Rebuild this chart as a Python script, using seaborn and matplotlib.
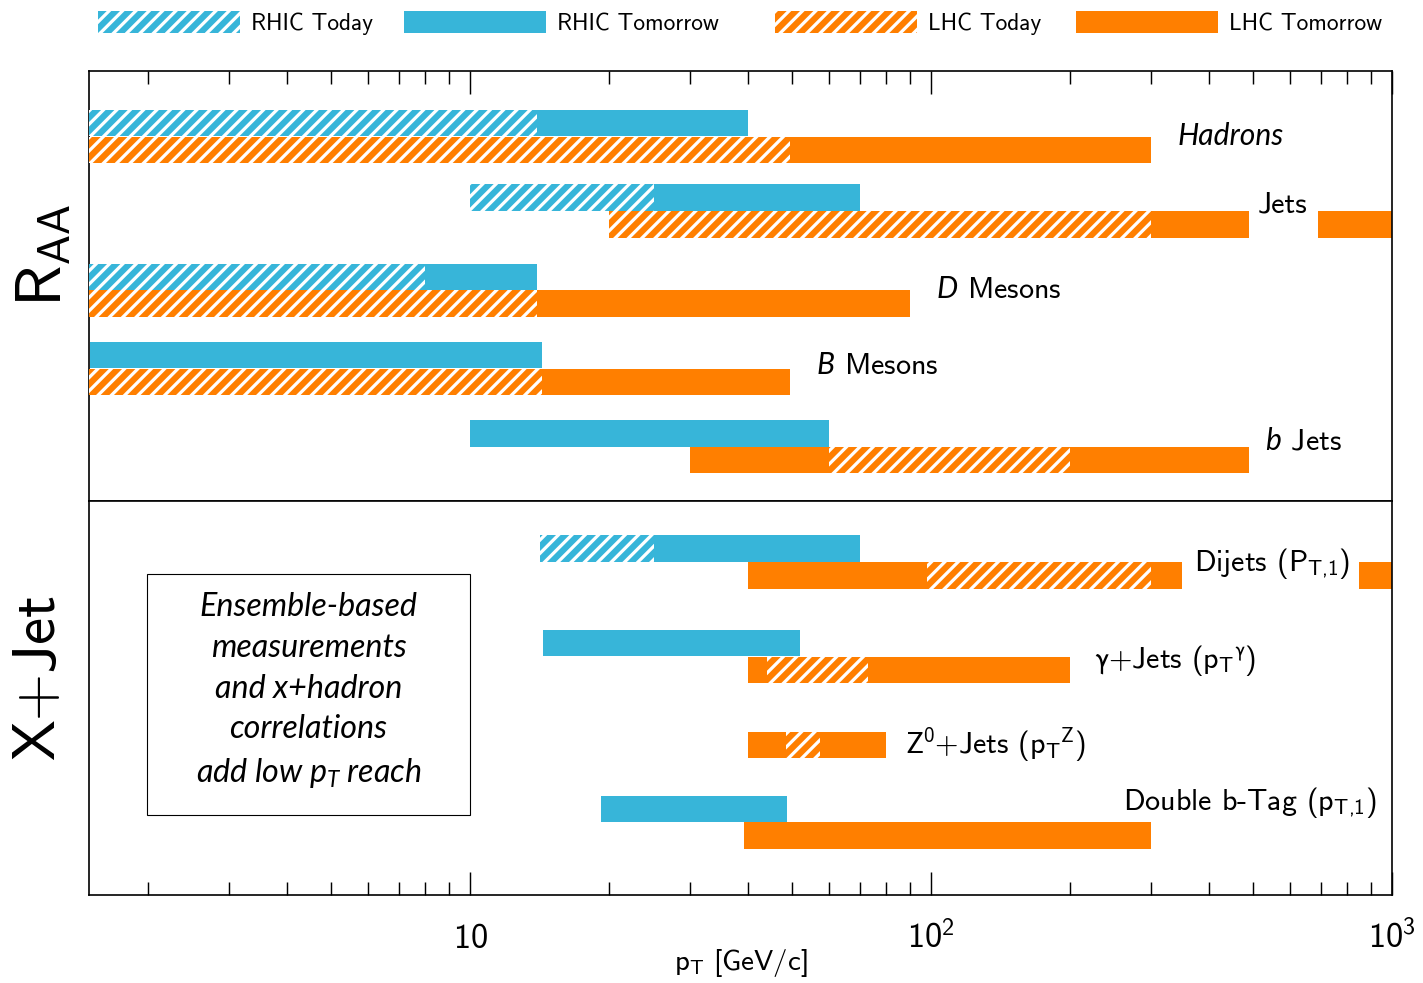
import numpy as np
import pandas as pd
import matplotlib
matplotlib.use("Agg")
import matplotlib.pyplot as plt
import seaborn as sns
from matplotlib.patches import Patch, Rectangle
from matplotlib.ticker import FixedLocator, FixedFormatter, LogLocator, NullFormatter

# ---------------- data (pT ranges in GeV/c) ----------------
raa_names = ["Hadrons", "Jets", "$D$ Mesons", "$B$ Mesons", "$b$ Jets"]
raa_rhic_today = [(1, 14), (10, 25), (1, 8), None, None]
raa_rhic_tomorrow = [[(1, 40)], [(10, 70)], [(1, 14)], [(1.5, 14.3)], [(10, 60)]]
raa_lhc_today = [(1, 49.5), (20, 300), (1, 14), (1, 14.3), (60, 200)]
raa_lhc_tomorrow = [[(1, 300)], [(20, 490), (690, 1000)], [(1, 90)], [(1, 49.5)], [(30, 490)]]

xjet_names = [r"Dijets (P$_\mathrm{T{,}1}$)",
              r"$\mathrm{\gamma}$+Jets (p$_\mathrm{T}{}^{\mathrm{\gamma}}$)",
              r"Z$^{0}$+Jets (p$_\mathrm{T}{}^{\mathrm{Z}}$)",
              r"Double b-Tag (p$_\mathrm{T{,}1}$)"]
xjet_rhic_today = [(14.2, 25), None, None, None]
xjet_rhic_tomorrow = [[(14.2, 70)], [(14.4, 52)], [], [(19.2, 48.7)]]
xjet_lhc_today = [(98, 300), (44, 73), (48.5, 57.5), None]
xjet_lhc_tomorrow = [[(40, 350), (850, 1000)], [(40, 200)], [(40, 80)], [(39.3, 300)]]

legend_labels = ["RHIC Today", "RHIC Tomorrow", "LHC Today", "LHC Tomorrow"]
tick_values = [10, 100, 1000]
tick_labels = ["$10$", "$10^{2}$", "$10^{3}$"]

# ---------------- layout ----------------
raa_rows = [0.0, 0.96, 1.98, 2.99, 4.0]
xjet_rows = [0.786, 2.004, 2.976, 4.137]
raa_label_x = [343, 512, 102.5, 56.3, 530]
raa_label_y = [0.0, 0.88, 1.98, 2.96, 3.94]
xjet_label_x = [372, 226, 88, 261]
xjet_label_y = [0.80, 2.05, 3.14, 3.88]

RHIC_C = "#37B5D9"
LHC_C = "#FF7F00"
BAR_H = 0.34
OFF = 0.172

sns.set_theme(style="ticks")
plt.rcParams.update({
    "font.family": ["cmss10", "DejaVu Sans"],
    "mathtext.fontset": "custom",
    "mathtext.rm": "cmss10",
    "mathtext.sf": "cmss10",
    "mathtext.it": "Lato:italic",
    "mathtext.bf": "cmss10",
    "mathtext.fallback": "stixsans",
    "axes.unicode_minus": False,
    "hatch.linewidth": 2.9,
    "axes.edgecolor": "black",
    "axes.linewidth": 1.5,
    "xtick.color": "black",
    "ytick.color": "black",
    "text.color": "black",
    "axes.labelcolor": "black",
})

DPI = 80
W, H = 1423, 983
fig = plt.figure(figsize=(W / DPI, H / DPI), dpi=DPI)
fig.patch.set_facecolor("white")
L, R = 89 / W, 1392 / W
ax_top = fig.add_axes([L, 1 - 501 / H, R - L, (501 - 71) / H])
ax_bot = fig.add_axes([L, 1 - 895 / H, R - L, (895 - 501) / H])


def segments(rows, today, tomorrow, sign, color):
    recs = []
    for r, td, tm in zip(rows, today, tomorrow):
        for lo, hi in tm:
            recs.append(dict(y=r + sign * OFF, lo=lo, hi=hi, color=color, hatched=False))
        if td is not None:
            recs.append(dict(y=r + sign * OFF, lo=td[0], hi=td[1], color=color, hatched=True))
    return recs


def draw(ax, df):
    for hatched in (False, True):
        sub = df[df.hatched == hatched]
        for _, s in sub.iterrows():
            if hatched:
                ax.barh(s.y, s.hi - s.lo, left=s.lo, height=BAR_H, color=s.color,
                        edgecolor="white", linewidth=0, hatch="//", zorder=3)
            else:
                ax.barh(s.y, s.hi - s.lo, left=s.lo, height=BAR_H, color=s.color,
                        linewidth=0, zorder=2)


top_df = pd.DataFrame(
    segments(raa_rows, raa_rhic_today, raa_rhic_tomorrow, -1, RHIC_C)
    + segments(raa_rows, raa_lhc_today, raa_lhc_tomorrow, +1, LHC_C))
bot_df = pd.DataFrame(
    segments(xjet_rows, xjet_rhic_today, xjet_rhic_tomorrow, -1, RHIC_C)
    + segments(xjet_rows, xjet_lhc_today, xjet_lhc_tomorrow, +1, LHC_C))

draw(ax_top, top_df)
draw(ax_bot, bot_df)

for ax in (ax_top, ax_bot):
    ax.set_xscale("log")
    ax.set_xlim(1.49, 1000)
    ax.set_yticks([])
    ax.set_facecolor("white")
    ax.grid(False)
    ax.xaxis.set_major_locator(FixedLocator(tick_values))
    ax.xaxis.set_minor_locator(LogLocator(base=10, subs=np.arange(2, 10)))
    ax.xaxis.set_minor_formatter(NullFormatter())
    for sp in ax.spines.values():
        sp.set_linewidth(1.5)
        sp.set_color("black")
    ax.tick_params(axis="x", which="major", length=20.7, width=1.3, direction="in")
    ax.tick_params(axis="x", which="minor", length=11.7, width=1.3, direction="in")

ax_top.set_ylim(4.697, -0.844)
ax_bot.set_ylim(5.077, 0)

ax_top.tick_params(axis="x", which="both", top=True, bottom=False,
                   labeltop=False, labelbottom=False)
ax_bot.tick_params(axis="x", which="both", top=False, bottom=True,
                   labelbottom=True, labelsize=31, pad=47.7)
ax_bot.xaxis.set_major_formatter(FixedFormatter(tick_labels))
for t in ax_bot.xaxis.get_major_ticks():
    t.label1.set_va("baseline")

ax_bot.set_xlabel(r"p$_\mathrm{T}$ [GeV/c]", fontsize=26)
ax_bot.xaxis.set_label_coords(0.5, -0.1726)
ax_bot.xaxis.label.set_va("center")

# measurement labels
for i, (n, x, y) in enumerate(zip(raa_names, raa_label_x, raa_label_y)):
    if i == 0:
        ax_top.text(x, y, n, fontsize=27, family="Lato", style="italic",
                    ha="left", va="center", zorder=5)
    else:
        ax_top.text(x, y, n, fontsize=27, ha="left", va="center", zorder=5)
for n, x, y in zip(xjet_names, xjet_label_x, xjet_label_y):
    ax_bot.text(x, y, n, fontsize=27, ha="left", va="center", zorder=5)

# annotation box
ax_bot.add_patch(Rectangle((0.0445, 0.203), 0.2479, 0.6117, transform=ax_bot.transAxes,
                           fill=False, edgecolor="black", linewidth=1.0, zorder=4))
ax_bot.text(0.1684, 0.5178,
            "Ensemble-based\nmeasurements\nand x+hadron\ncorrelations\nadd low $p_T$ reach",
            transform=ax_bot.transAxes, fontsize=29, family="Lato", style="italic",
            ha="center", va="center", multialignment="center",
            linespacing=1.44, zorder=5)

# panel labels
fig.text(45 / W, 1 - 256 / H, r"R$_\mathrm{AA}$", rotation=90, fontsize=58,
         ha="center", va="center")
fig.text(39 / W, 1 - 677 / H, "X+Jet", rotation=90, fontsize=55,
         ha="center", va="center")

# legend
handles = [
    Patch(facecolor=RHIC_C, edgecolor="white", linewidth=0, hatch="//"),
    Patch(facecolor=RHIC_C, linewidth=0),
    Patch(facecolor=LHC_C, edgecolor="white", linewidth=0, hatch="//"),
    Patch(facecolor=LHC_C, linewidth=0),
]
leg_x = [98 / W, 404 / W, 775 / W, 1076 / W]
for h, lab, x in zip(handles, legend_labels, leg_x):
    fig.legend(handles=[h], labels=[lab], loc="center left",
               bbox_to_anchor=(x, 1 - 23 / H), frameon=False, fontsize=21,
               handlelength=6.09, handleheight=1.11, handletextpad=0.47,
               borderpad=0, borderaxespad=0)

fig.savefig("out.png", dpi=DPI, facecolor="white")
